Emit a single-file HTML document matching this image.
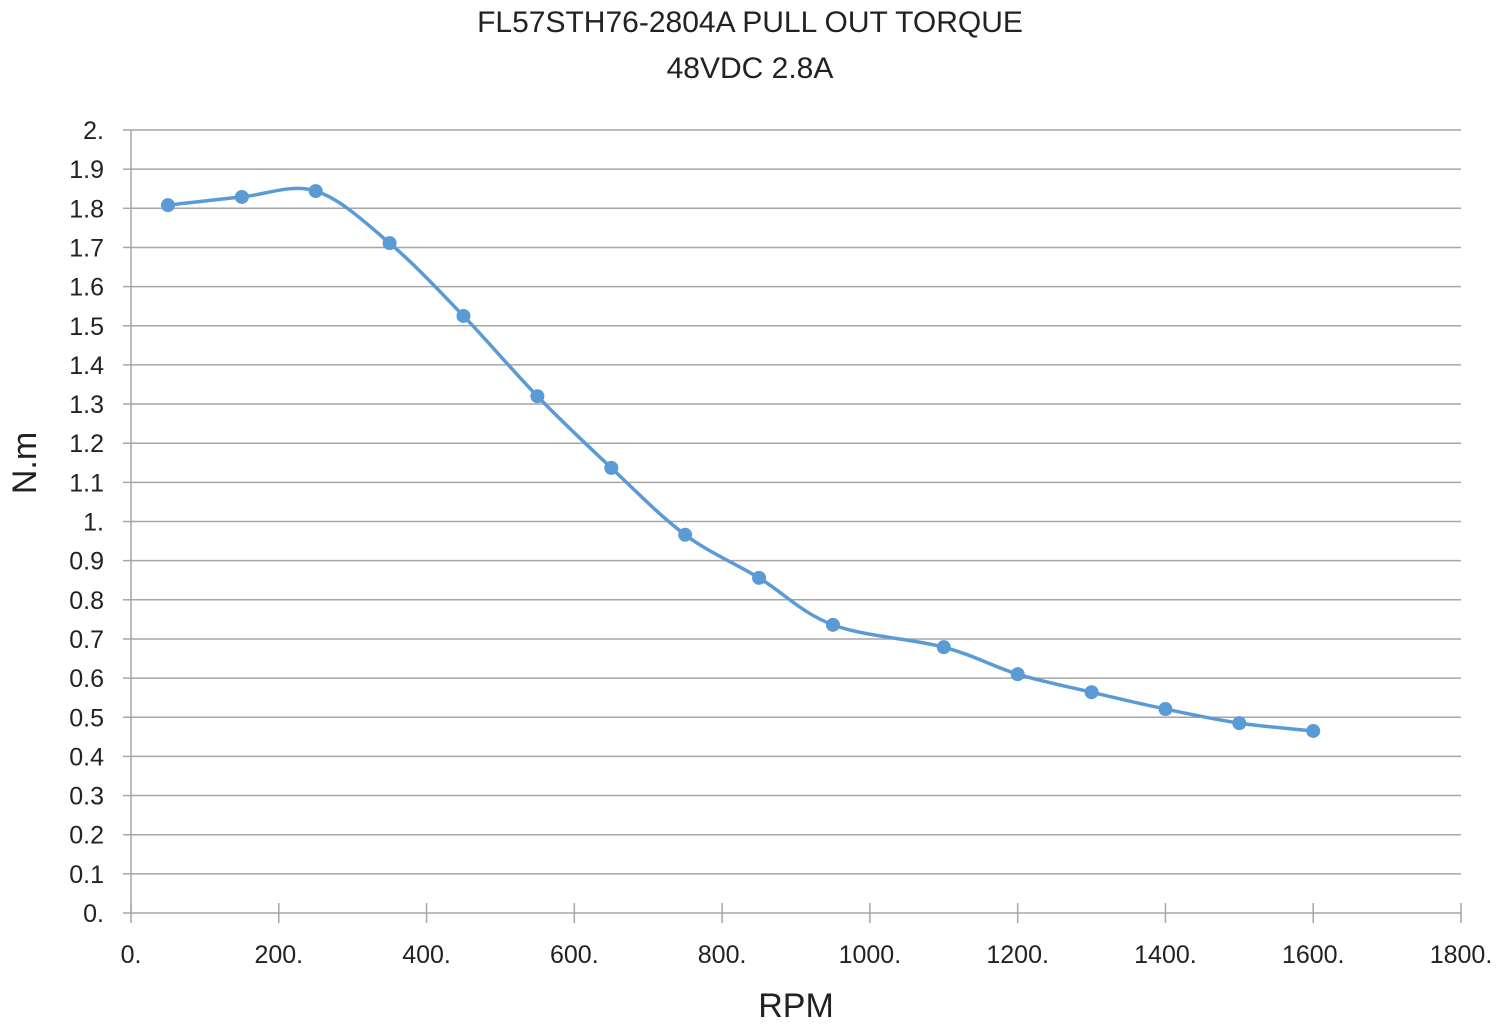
<!DOCTYPE html>
<html><head><meta charset="utf-8"><style>
body{margin:0;background:#fff;}
svg{display:block;font-family:"Liberation Sans",sans-serif;}
</style></head><body>
<svg id="chart" width="1500" height="1024" viewBox="0 0 1500 1024">
<text x="750" y="32" text-anchor="middle" font-size="30" fill="#222">FL57STH76-2804A PULL  OUT  TORQUE</text>
<text x="750" y="78" text-anchor="middle" font-size="30" fill="#222">48VDC 2.8A</text>
<g id="grid"></g>
<g id="axes"></g>
<g id="series"></g>
<text transform="translate(36,463) rotate(-90)" text-anchor="middle" font-size="34" fill="#222">N.m</text>
<text x="796" y="1017" text-anchor="middle" font-size="34" fill="#222">RPM</text>
</svg>
<script>
const rpm = [50,150,250,350,450,550,650,750,850,950,1100,1200,1300,1400,1500,1600];
const torque = [1.808,1.829,1.844,1.711,1.525,1.32,1.137,0.966,0.856,0.736,0.679,0.61,0.564,0.521,0.485,0.465];
const yTicks = [0,0.1,0.2,0.3,0.4,0.5,0.6,0.7,0.8,0.9,1,1.1,1.2,1.3,1.4,1.5,1.6,1.7,1.8,1.9,2];
const yTickLabels = ["0.","0.1","0.2","0.3","0.4","0.5","0.6","0.7","0.8","0.9","1.","1.1","1.2","1.3","1.4","1.5","1.6","1.7","1.8","1.9","2."];
const xTicks = [0,200,400,600,800,1000,1200,1400,1600,1800];
const xTickLabels = ["0.","200.","400.","600.","800.","1000.","1200.","1400.","1600.","1800."];

const X0=131,X1=1461,Y0=913,Y1=130;
const sx=v=>X0+(v-0)/(1800)*(X1-X0);
const sy=v=>Y0-(v/2)*(Y0-Y1);
const NS="http://www.w3.org/2000/svg";
function mk(tag,attrs,parent){const e=document.createElementNS(NS,tag);for(const k in attrs)e.setAttribute(k,attrs[k]);parent.appendChild(e);return e;}
const grid=document.getElementById('grid'),axes=document.getElementById('axes'),series=document.getElementById('series');
yTicks.forEach((t,i)=>{
  const y=sy(t);
  if(t>0){const l=mk('line',{x1:X0,x2:X1,y1:y,y2:y,stroke:'#a6a6a6','stroke-width':1.5},grid);
  
  }
  const tk=mk('line',{x1:X0-8,x2:X0,y1:y,y2:y,stroke:'#a6a6a6','stroke-width':1.5},axes);
  
  
  const tx=mk('text',{x:104,y:y+9,'text-anchor':'end','font-size':25,fill:'#222'},axes);
  tx.textContent=yTickLabels[i];
  
  
});
const yax=mk('line',{x1:X0,x2:X0,y1:Y1,y2:Y0,stroke:'#a6a6a6','stroke-width':1.5},axes);


const xax=mk('line',{x1:X0,x2:X1,y1:Y0,y2:Y0,stroke:'#a6a6a6','stroke-width':1.5},axes);


xTicks.forEach((t,i)=>{
  const x=sx(t);
  const tk=mk('line',{x1:x,x2:x,y1:Y0-10,y2:Y0+10,stroke:'#a6a6a6','stroke-width':1.5},axes);
  
  
  const tx=mk('text',{x:x,y:963,'text-anchor':'middle','font-size':25,fill:'#222'},axes);
  tx.textContent=xTickLabels[i];
  
  
});
const pts=rpm.map((r,i)=>[sx(r),sy(torque[i])]);
let d=`M${pts[0][0]},${pts[0][1]}`;
for(let i=0;i<pts.length-1;i++){
  const p0=pts[Math.max(0,i-1)],p1=pts[i],p2=pts[i+1],p3=pts[Math.min(pts.length-1,i+2)];
  const c1=[p1[0]+(p2[0]-p0[0])/6,p1[1]+(p2[1]-p0[1])/6];
  const c2=[p2[0]-(p3[0]-p1[0])/6,p2[1]-(p3[1]-p1[1])/6];
  d+=` C${c1[0]},${c1[1]} ${c2[0]},${c2[1]} ${p2[0]},${p2[1]}`;
}
const line=mk('path',{d:d,fill:'none',stroke:'#5b9bd5','stroke-width':3.5},series);


pts.forEach(p=>{
  const c=mk('circle',{cx:p[0],cy:p[1],r:7,fill:'#5b9bd5'},series);
  
  
});
</script>
</body></html>
